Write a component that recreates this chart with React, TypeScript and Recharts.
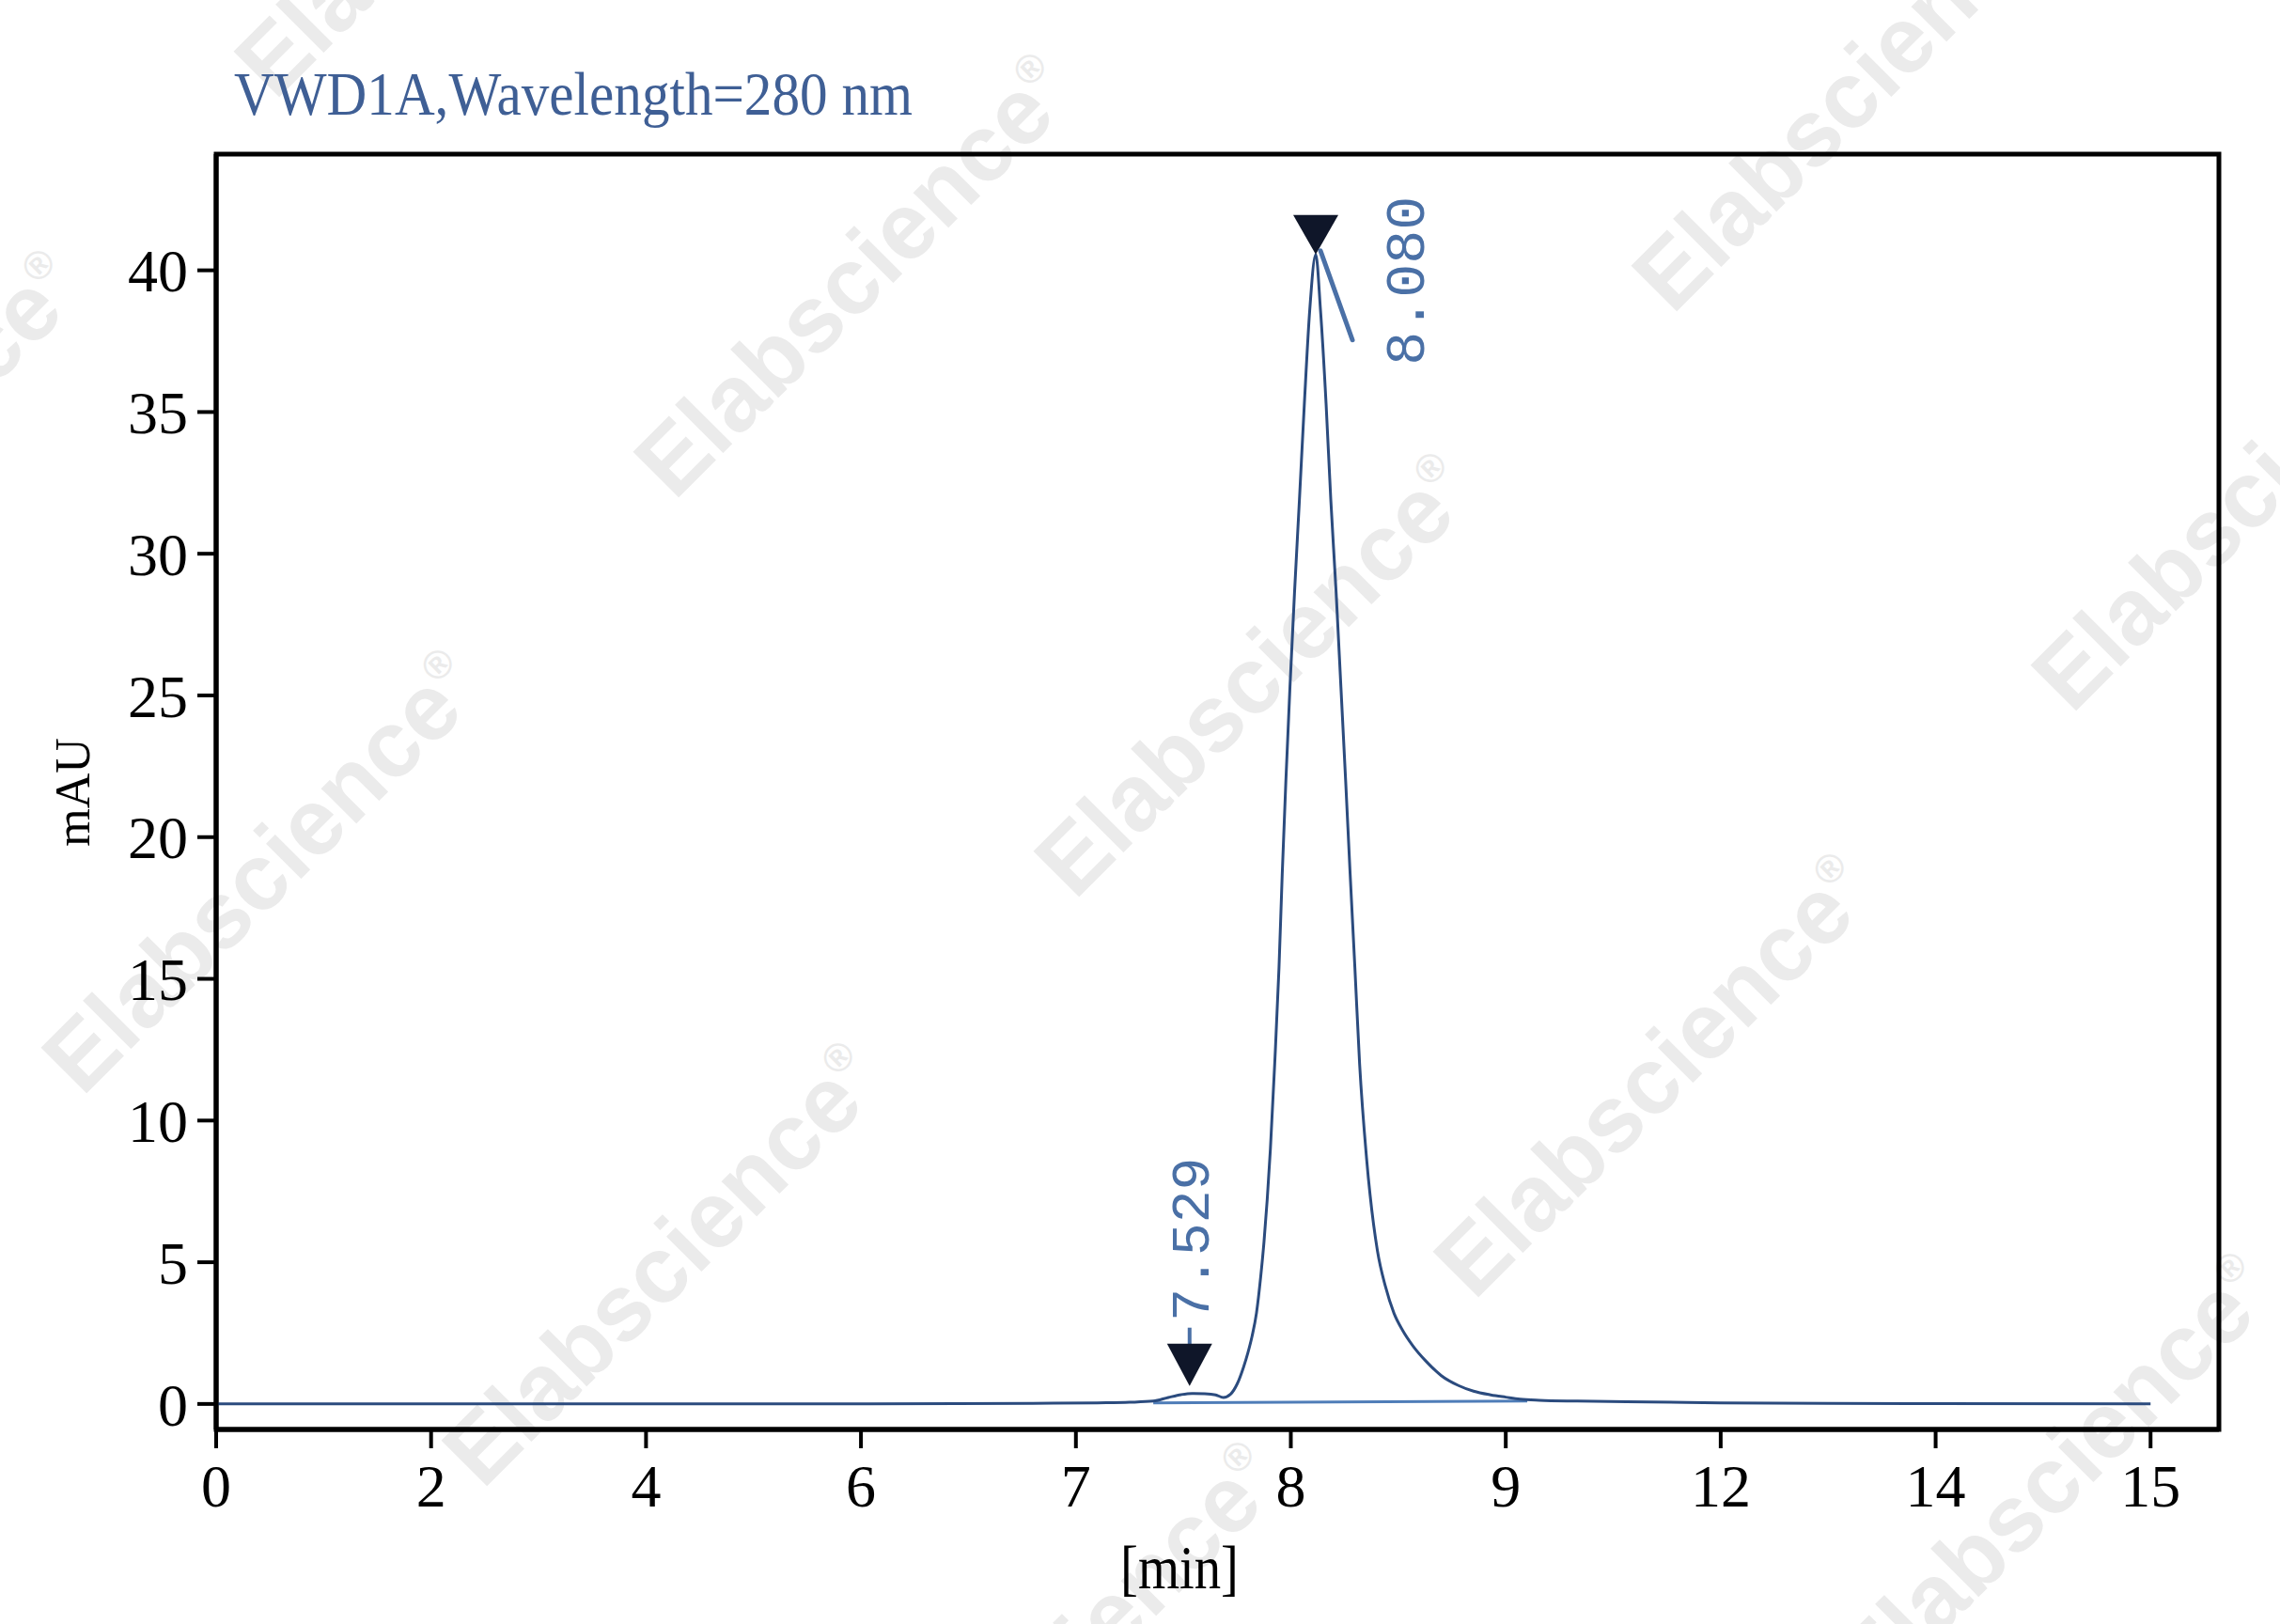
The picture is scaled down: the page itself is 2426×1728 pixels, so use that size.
import React from 'react'
import { LineChart, Line, XAxis, YAxis, ReferenceDot, ReferenceArea } from 'recharts'

const W = 2426
const H = 1728

// tick labels on the time axis (the instrument plots them at equal spacing)
const xTickMinutes = [0, 2, 4, 6, 7, 8, 9, 12, 14, 15]
const yTickValues = [0, 5, 10, 15, 20, 25, 30, 35, 40]

// chromatogram trace
const traceMinutes = [
    0, 1, 2, 3, 4, 5, 6, 6.8, 7.1, 7.25, 7.36, 7.43, 7.49, 7.54, 7.6, 7.65, 7.686, 7.72, 7.75, 7.78,
    7.8, 7.82, 7.84, 7.86, 7.875, 7.89, 7.905, 7.925, 7.945, 7.96, 7.977, 7.996, 8.017, 8.04, 8.063, 8.088,
    8.116, 8.138, 8.164, 8.186, 8.211, 8.233, 8.255, 8.276, 8.298, 8.32, 8.352, 8.403, 8.44, 8.48, 8.52,
    8.568, 8.63, 8.7, 8.78, 8.85, 8.93, 9.0, 9.2, 9.47, 10, 11, 12, 13, 14, 15,
]
const traceMau = [
    0, 0, 0, 0, 0, 0, 0, 0.02, 0.04, 0.06, 0.1, 0.23, 0.33, 0.37, 0.36, 0.32, 0.23, 0.35, 0.7, 1.3,
    1.8, 2.4, 3.2, 4.5, 5.7, 7.2, 9.0, 12.0, 15.4, 18.7, 22.0, 25.3, 28.6, 31.9, 35.3, 38.6,
    40.56, 38.6, 35.3, 31.9, 28.6, 25.3, 22.0, 18.7, 15.4, 12.0, 8.7, 5.4, 4.15, 3.2, 2.6,
    2.05, 1.5, 1.0, 0.65, 0.45, 0.32, 0.24, 0.17, 0.13, 0.1, 0.07, 0.04, 0.02, 0.01, 0,
]

// integration baseline drawn under the peaks
const baselineMinutes = [7.36, 9.3]
const baselineMau = [0.04, 0.1]

// peak marks
const peakMinutes = [7.529, 8.116]
const peakMau = [0.37, 40.56]
const peakLabels = ['7.529', '8.080']

// piecewise position on the equally spaced tick axis
const toPos = (t: number) => {
    const n = xTickMinutes.length
    for (let i = 0; i < n - 1; i++) {
        const a = xTickMinutes[i]
        const b = xTickMinutes[i + 1]
        if (t <= b || i === n - 2) return i + (t - a) / (b - a)
    }
    return 0
}

const traceData = traceMinutes.map((t, i) => ({ pos: toPos(t), mau: traceMau[i] }))
const baselineData = baselineMinutes.map((t, i) => ({ pos: toPos(t), mau: baselineMau[i] }))

const X_MAX = 9.318
const Y_MIN = -0.9
const Y_MAX = 44.1

const SERIF = '"Liberation Serif", "Times New Roman", serif'
const MONO = '"Liberation Mono", "DejaVu Sans Mono", monospace'
const LABEL_BLUE = '#4a70a6'
const MARK_FILL = '#0f1629'

const PeakMark = ({ cx, cy, label, side }: { cx: number; cy: number; label: string; side: boolean }) => {
    if (side) {
        return (
            <g>
                <polygon points={`${cx - 24},${cy - 42} ${cx + 24},${cy - 42} ${cx},${cy}`} fill={MARK_FILL} />
                <line x1={cx + 5} y1={cy - 4} x2={cx + 39} y2={cy + 91} stroke={LABEL_BLUE} strokeWidth={5} strokeLinecap="round" />
                <text
                    transform={`translate(${cx + 94},${cy + 28}) rotate(-90)`}
                    textAnchor="middle"
                    dy="0.35em"
                    fontFamily={MONO}
                    fontSize={60}
                    fill={LABEL_BLUE}
                >
                    {label}
                </text>
            </g>
        )
    }
    return (
        <g>
            <line x1={cx} y1={cy - 70} x2={cx} y2={cy - 52} stroke={LABEL_BLUE} strokeWidth={4} />
            <polygon points={`${cx - 24},${cy - 53} ${cx + 24},${cy - 53} ${cx},${cy - 8}`} fill={MARK_FILL} />
            <text
                transform={`translate(${cx},${cy - 164}) rotate(-90)`}
                textAnchor="middle"
                dy="0.35em"
                fontFamily={MONO}
                fontSize={58}
                fill={LABEL_BLUE}
            >
                {label}
            </text>
        </g>
    )
}

// faint diagonal watermark positions
const watermarkSpots = [
    [483, -132], [908, 294], [1334, 719], [1759, 1145], [2185, 1570],
    [1970, 96], [2395, 521],
    [-147, 503], [278, 928], [704, 1346], [1129, 1771],
]

const Watermarks = () => (
    <svg width={W} height={H} style={{ position: 'absolute', left: 0, top: 0 }}>
        {watermarkSpots.map(([x, y], i) => (
            <text
                key={i}
                transform={`translate(${x},${y}) rotate(-45)`}
                textAnchor="middle"
                dy="0.35em"
                fontFamily='"Liberation Sans", Arial, sans-serif'
                fontWeight="bold"
                fontSize={100}
                fill="#ebebeb"
            >
                Elabscience
                <tspan fontSize={42} dy={-44}>®</tspan>
            </text>
        ))}
    </svg>
)

export default function App() {
    return (
        <div style={{ position: 'relative', width: W, height: H, background: '#fff', overflow: 'hidden' }}>
            <style>{'body{margin:0}'}</style>
            <Watermarks />
            <div style={{ position: 'absolute', left: 0, top: 0 }}>
                <LineChart width={W} height={H} margin={{ top: 164, right: 65, bottom: 107, left: 110 }}>
                    <XAxis
                        dataKey="pos"
                        type="number"
                        domain={[0, X_MAX]}
                        allowDataOverflow
                        ticks={xTickMinutes.map((_, i) => i)}
                        interval={0}
                        tickFormatter={(i: number) => String(xTickMinutes[i])}
                        height={100}
                        tickSize={20}
                        tickMargin={17}
                        axisLine={{ stroke: '#000', strokeWidth: 5 }}
                        tickLine={{ stroke: '#000', strokeWidth: 4 }}
                        tick={{ fill: '#000', fontSize: 64, fontFamily: SERIF }}
                    />
                    <YAxis
                        type="number"
                        domain={[Y_MIN, Y_MAX]}
                        allowDataOverflow
                        ticks={yTickValues}
                        interval={0}
                        width={120}
                        tickSize={20}
                        tickMargin={10}
                        axisLine={{ stroke: '#000', strokeWidth: 5 }}
                        tickLine={{ stroke: '#000', strokeWidth: 4 }}
                        tick={{ fill: '#000', fontSize: 64, fontFamily: SERIF }}
                    />
                    <ReferenceArea x1={0} x2={X_MAX} y1={Y_MIN} y2={Y_MAX} fill="none" stroke="#000" strokeWidth={5} />
                    <Line
                        data={baselineData}
                        dataKey="mau"
                        type="linear"
                        stroke="#4f7db8"
                        strokeWidth={3}
                        dot={false}
                        activeDot={false}
                        isAnimationActive={false}
                    />
                    <Line
                        data={traceData}
                        dataKey="mau"
                        type="monotone"
                        stroke="#2b4b7e"
                        strokeWidth={3}
                        dot={false}
                        activeDot={false}
                        isAnimationActive={false}
                    />
                    {peakMinutes.map((t, i) => (
                        <ReferenceDot
                            key={peakLabels[i]}
                            x={toPos(t)}
                            y={peakMau[i]}
                            r={1}
                            shape={(p: any) => <PeakMark cx={p.cx} cy={p.cy} label={peakLabels[i]} side={i === peakMinutes.length - 1} />}
                        />
                    ))}
                </LineChart>
            </div>
            <svg width={W} height={H} style={{ position: 'absolute', left: 0, top: 0, pointerEvents: 'none' }}>
                <text x={249} y={122} fontFamily={SERIF} fontSize={66} fill="#3f5f95" textLength={722} lengthAdjust="spacingAndGlyphs">
                    VWD1A,Wavelength=280 nm
                </text>
                <text transform="translate(77,843) rotate(-90)" textAnchor="middle" dy="0.35em" fontFamily={SERIF} fontSize={52} fill="#000">
                    mAU
                </text>
                <text x={1255} y={1690} textAnchor="middle" fontFamily={SERIF} fontSize={66} fill="#000" textLength={126} lengthAdjust="spacingAndGlyphs">
                    [min]
                </text>
            </svg>
        </div>
    )
}
